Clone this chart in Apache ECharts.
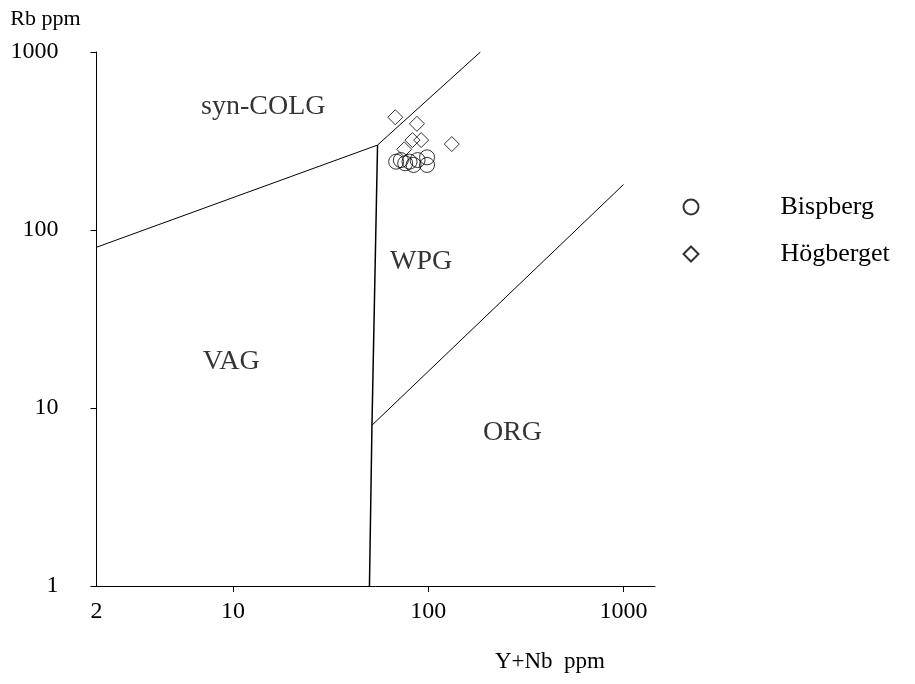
<!DOCTYPE html>
<html>
<head>
<meta charset="utf-8">
<script src="https://cdn.jsdelivr.net/npm/echarts@6/dist/echarts.min.js"></script>
<style>
  html, body { margin: 0; padding: 0; background: #fff; }
  #chart { width: 915px; height: 684px; }
</style>
</head>
<body>
<div id="chart"></div>
<script>
// Rb vs (Y+Nb) tectonic discrimination diagram, log-log

// Sample analyses, [Y+Nb ppm, Rb ppm]
const bispberg = [
  [68.5, 242], [72.4, 247], [76.2, 237], [80.2, 242],
  [84.1, 232], [88.2, 247], [98.6, 256], [98.6, 232]
];
const hogberget = [
  [67.8, 430], [87.5, 395], [83, 320], [92, 320],
  [132, 304], [75.3, 284]
];

// Field boundaries, vertices in [Y+Nb, Rb]
const boundSynColgVag = [[2, 80], [55, 300]];
const boundSynColgWpg = [[55, 300], [185, 1000]];
const boundWpgVag = [[55, 300], [51.5, 8], [50, 1]];
const boundWpgOrg = [[51.5, 8], [1000, 180]];

// Field names and where they sit, [Y+Nb, Rb]
const fieldNames = ['syn-COLG', 'WPG', 'VAG', 'ORG'];
const fieldPlaces = [[14.3, 491], [92, 66], [9.8, 18.1], [270, 7.3]];

// Axis tick values
const xTickLabels = [2, 10, 100, 1000];
const xTickMarks = [10, 100, 1000];

const FONT = 'Liberation Serif';

const chart = echarts.init(document.getElementById('chart'), null, { renderer: 'canvas' });

function boundary(name, pts, width) {
  return {
    name: name,
    type: 'line',
    data: pts,
    showSymbol: false,
    symbol: 'none',
    silent: true,
    animation: false,
    lineStyle: { color: '#000', width: width || 1 },
    z: 1
  };
}

const option = {
  backgroundColor: '#fff',
  animation: false,
  textStyle: { fontFamily: FONT, color: '#000' },
  grid: { left: 96.5, top: 52, width: 558.5, height: 534 },
  legend: {
    orient: 'vertical',
    left: 677.5,
    top: 189,
    itemGap: 21,
    itemWidth: 15,
    itemHeight: 15,
    data: ['Bispberg', 'Högberget'],
    textStyle: { fontFamily: FONT, fontSize: 26, color: '#000', padding: [0, 0, 0, 77] }
  },
  xAxis: {
    type: 'log',
    logBase: 10,
    min: 2,
    max: 1450,
    name: 'Y+Nb  ppm',
    nameLocation: 'end',
    nameGap: -50,
    nameTextStyle: { fontFamily: FONT, fontSize: 23, color: '#000', align: 'right', verticalAlign: 'top', padding: [64, 0, 0, 0] },
    axisLine: { show: true, lineStyle: { color: '#000', width: 1 } },
    axisTick: { show: true, inside: false, length: 6, lineStyle: { color: '#000' }, customValues: xTickMarks },
    axisLabel: { show: true, fontFamily: FONT, fontSize: 24, color: '#000', margin: 14, customValues: xTickLabels,
      formatter: v => String(Math.round(v)) },
    splitLine: { show: false },
    minorTick: { show: false }
  },
  yAxis: {
    type: 'log',
    logBase: 10,
    min: 1,
    max: 1000,
    name: 'Rb ppm',
    nameLocation: 'end',
    nameGap: 22,
    nameTextStyle: { fontFamily: FONT, fontSize: 22, color: '#000', align: 'right', padding: [0, 16, 0, 0] },
    axisLine: { show: true, lineStyle: { color: '#000', width: 1 } },
    axisTick: { show: true, inside: false, length: 6, lineStyle: { color: '#000' } },
    axisLabel: { show: true, fontFamily: FONT, fontSize: 24, color: '#000', margin: 38,
      padding: [6, 0, 0, 0],
      formatter: v => String(Math.round(v)) },
    splitLine: { show: false },
    minorTick: { show: false }
  },
  series: [
    boundary('b1', boundSynColgVag),
    boundary('b2', boundSynColgWpg),
    boundary('b3', boundWpgVag, 1.5),
    boundary('b4', boundWpgOrg),
    {
      name: 'fields',
      type: 'scatter',
      silent: true,
      symbolSize: 0,
      data: fieldPlaces.map((p, i) => ({ value: p, name: fieldNames[i] })),
      label: {
        show: true,
        position: 'inside',
        formatter: p => p.name,
        fontFamily: FONT,
        fontSize: 28,
        color: '#000',
        textBorderWidth: 0
      },
      z: 2
    },
    {
      name: 'Bispberg',
      type: 'scatter',
      symbol: 'circle',
      symbolSize: 15,
      data: bispberg,
      itemStyle: { color: 'rgba(0,0,0,0)', borderColor: '#000', borderWidth: 1 },
      z: 3
    },
    {
      name: 'Högberget',
      type: 'scatter',
      symbol: 'diamond',
      symbolSize: 15,
      data: hogberget,
      itemStyle: { color: 'rgba(0,0,0,0)', borderColor: '#000', borderWidth: 1 },
      z: 3
    }
  ]
};

chart.setOption(option);
</script>
</body>
</html>
